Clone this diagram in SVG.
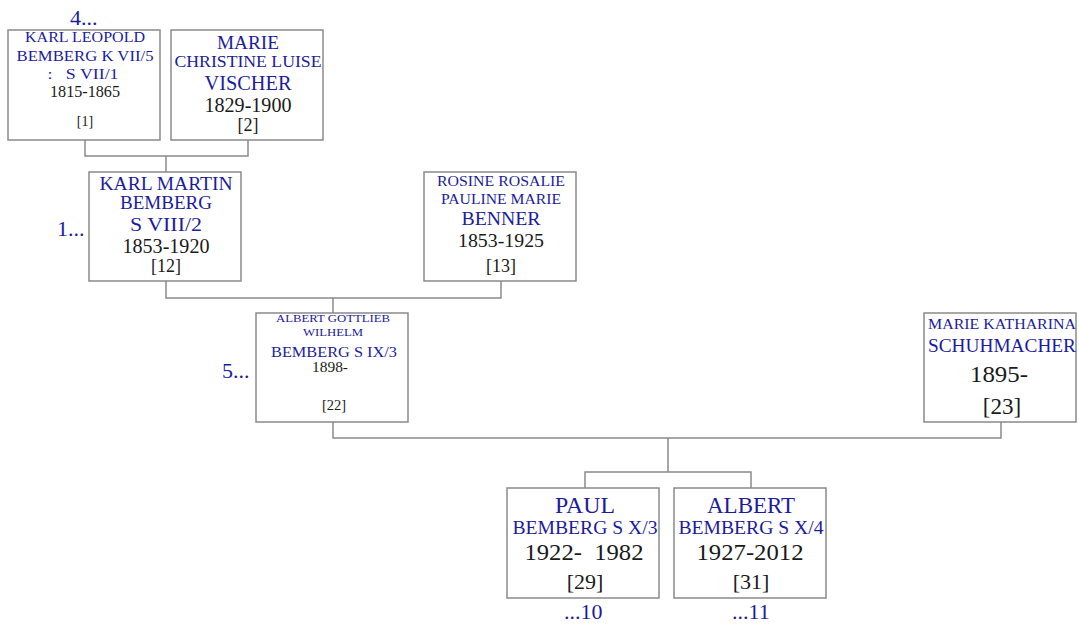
<svg xmlns="http://www.w3.org/2000/svg" width="1079" height="625" viewBox="0 0 1079 625">
<style>
.box{fill:#fff;stroke:#8a8a8a;stroke-width:1.5}
.n{font-family:"Liberation Serif","DejaVu Serif",serif;fill:#1c1c9c;text-anchor:middle}
.d{font-family:"Liberation Serif","DejaVu Serif",serif;fill:#1a1a1a;text-anchor:middle}
.ref{font-family:"Liberation Serif","DejaVu Serif",serif;fill:#1c1c9c;font-size:22px}
.c{fill:none;stroke:#8a8a8a;stroke-width:1.5}
</style>
<rect width="1079" height="625" fill="#fff"/>
<g id="connectors">
<path class="c" d="M85 140V156H248V140M166 156V172"/>
<path class="c" d="M166 281V298H501V281M333 298V313"/>
<path class="c" d="M333 422V438H1001V422M668 438V472M585 488V472H751V488"/>
</g>
<g id="n1">
<rect class="box" x="8" y="30" width="152" height="110"/>
<text class="n" x="85" y="42" font-size="15" textLength="120" lengthAdjust="spacingAndGlyphs">KARL LEOPOLD</text>
<text class="n" x="85" y="61" font-size="15" textLength="137" lengthAdjust="spacingAndGlyphs">BEMBERG K VII/5</text>
<text class="n" x="83" y="79" font-size="15" xml:space="preserve" textLength="71" lengthAdjust="spacingAndGlyphs">:   S VII/1</text>
<text class="d" x="85" y="97" font-size="16" textLength="70" lengthAdjust="spacingAndGlyphs">1815-1865</text>
<text class="d" x="85" y="126" font-size="14">[1]</text>
</g>
<g id="n2">
<rect class="box" x="171" y="30" width="152" height="110"/>
<text class="n" x="248" y="49" font-size="18" textLength="62" lengthAdjust="spacingAndGlyphs">MARIE</text>
<text class="n" x="248" y="67" font-size="16" textLength="147" lengthAdjust="spacingAndGlyphs">CHRISTINE LUISE</text>
<text class="n" x="248" y="90" font-size="20" textLength="87" lengthAdjust="spacingAndGlyphs">VISCHER</text>
<text class="d" x="248" y="112" font-size="20" textLength="87" lengthAdjust="spacingAndGlyphs">1829-1900</text>
<text class="d" x="248" y="131" font-size="18">[2]</text>
</g>
<g id="n3">
<rect class="box" x="89" y="172" width="152" height="109"/>
<text class="n" x="166" y="190" font-size="18" textLength="133" lengthAdjust="spacingAndGlyphs">KARL MARTIN</text>
<text class="n" x="166" y="209" font-size="18" textLength="92" lengthAdjust="spacingAndGlyphs">BEMBERG</text>
<text class="n" x="166" y="231" font-size="18" textLength="72" lengthAdjust="spacingAndGlyphs">S VIII/2</text>
<text class="d" x="166" y="253" font-size="20" textLength="87" lengthAdjust="spacingAndGlyphs">1853-1920</text>
<text class="d" x="166" y="272" font-size="18">[12]</text>
</g>
<g id="n4">
<rect class="box" x="424" y="172" width="152" height="109"/>
<text class="n" x="501" y="186" font-size="14" textLength="128" lengthAdjust="spacingAndGlyphs">ROSINE ROSALIE</text>
<text class="n" x="501" y="204" font-size="14" textLength="120" lengthAdjust="spacingAndGlyphs">PAULINE MARIE</text>
<text class="n" x="501" y="225" font-size="18" textLength="79" lengthAdjust="spacingAndGlyphs">BENNER</text>
<text class="d" x="501" y="247" font-size="19" textLength="86" lengthAdjust="spacingAndGlyphs">1853-1925</text>
<text class="d" x="501" y="272" font-size="18">[13]</text>
</g>
<g id="n5">
<rect class="box" x="256" y="313" width="152" height="109"/>
<text class="n" x="333" y="322" font-size="11" textLength="114" lengthAdjust="spacingAndGlyphs">ALBERT GOTTLIEB</text>
<text class="n" x="333" y="336" font-size="11" textLength="60" lengthAdjust="spacingAndGlyphs">WILHELM</text>
<text class="n" x="334" y="357" font-size="15.5" textLength="126" lengthAdjust="spacingAndGlyphs">BEMBERG S IX/3</text>
<text class="d" x="330" y="372" font-size="15" textLength="36" lengthAdjust="spacingAndGlyphs">1898-</text>
<text class="d" x="334" y="410" font-size="14.5">[22]</text>
</g>
<g id="n6">
<rect class="box" x="924" y="313" width="152" height="109"/>
<text class="n" x="1002" y="329" font-size="15" textLength="148" lengthAdjust="spacingAndGlyphs">MARIE KATHARINA</text>
<text class="n" x="1002" y="352" font-size="18" textLength="148" lengthAdjust="spacingAndGlyphs">SCHUHMACHER</text>
<text class="d" x="999" y="382" font-size="24" textLength="58" lengthAdjust="spacingAndGlyphs">1895-</text>
<text class="d" x="1002" y="414" font-size="23">[23]</text>
</g>
<g id="n7">
<rect class="box" x="507" y="488" width="152" height="110"/>
<text class="n" x="585" y="513" font-size="24" textLength="60" lengthAdjust="spacingAndGlyphs">PAUL</text>
<text class="n" x="585" y="534" font-size="18" textLength="145" lengthAdjust="spacingAndGlyphs">BEMBERG S X/3</text>
<text class="d" x="584" y="560" font-size="23" xml:space="preserve" textLength="119" lengthAdjust="spacingAndGlyphs">1922-  1982</text>
<text class="d" x="585" y="589" font-size="22">[29]</text>
</g>
<g id="n8">
<rect class="box" x="674" y="488" width="152" height="110"/>
<text class="n" x="751" y="513" font-size="24" textLength="88" lengthAdjust="spacingAndGlyphs">ALBERT</text>
<text class="n" x="751" y="534" font-size="18" textLength="145" lengthAdjust="spacingAndGlyphs">BEMBERG S X/4</text>
<text class="d" x="750" y="560" font-size="23" textLength="107" lengthAdjust="spacingAndGlyphs">1927-2012</text>
<text class="d" x="751" y="589" font-size="22">[31]</text>
</g>
<g id="refs">
<text class="ref" x="70" y="25">4...</text>
<text class="ref" x="57" y="236">1...</text>
<text class="ref" x="222" y="378">5...</text>
<text class="ref" x="564" y="619">...10</text>
<text class="ref" x="732" y="619">...11</text>
</g>
</svg>
